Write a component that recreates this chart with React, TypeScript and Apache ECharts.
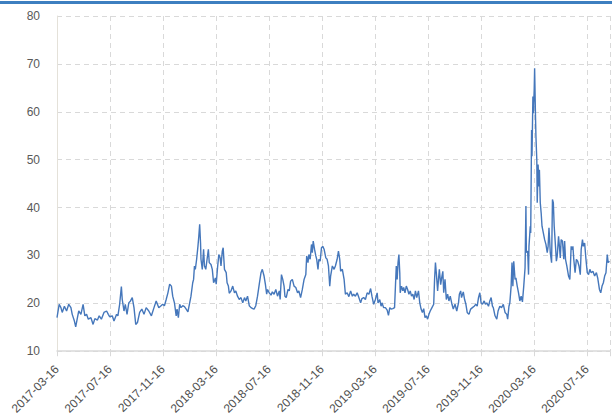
import React, { useEffect, useRef } from "react";
import * as echarts from "echarts";

// Days elapsed since 2017-03-16 for each reading
const START_DATE = "2017-03-16";
const tickLabels = [
  "2017-03-16", "2017-07-16", "2017-11-16", "2018-03-16", "2018-07-16", "2018-11-16",
  "2019-03-16", "2019-07-16", "2019-11-16", "2020-03-16", "2020-07-16",
];

const dayOffsets = [
  0, 5, 9, 12, 17, 22, 27, 32, 35, 40, 43, 47, 50, 55, 60, 64, 68, 72, 78, 83,
  87, 93, 97, 102, 108, 114, 118, 121, 127, 131, 137, 140, 144, 148, 150, 154, 157, 161, 165, 169,
  173, 177, 181, 185, 190, 195, 200, 205, 211, 217, 223, 228, 234, 238, 243,
  247, 251, 255, 259, 263, 266, 270, 274, 276, 279, 282, 285, 289, 293, 297, 301, 305, 308, 312, 314,
  316, 318, 321, 324, 326, 328, 330, 331, 334, 337, 339, 342, 345, 348, 350, 354, 357, 360, 362, 364,
  366, 369, 372, 375, 377, 380, 382, 385, 389, 391, 394, 396, 400, 404, 408, 411, 415, 419, 423, 427,
  431, 434, 438, 442, 446, 450, 453, 457, 461, 465, 469, 472, 476, 479, 482, 484, 488, 492, 495, 499,
  503, 507, 511, 513, 516, 519, 522, 524, 527, 531, 534, 537, 541, 545, 549, 553, 556, 560, 564, 568,
  572, 574, 577, 579, 582, 585, 587, 589, 592, 595, 597, 600, 602, 605, 608, 611, 614, 618, 621, 624,
  627, 629, 633, 637, 640, 644, 647, 650, 652, 656, 660, 663, 667, 671, 675, 679, 682, 686, 690, 694,
  698, 701, 705, 709, 713, 717, 721, 724, 728, 732, 736, 738, 742, 745, 747, 751,
  755, 759, 762, 765, 768, 772, 776, 779, 780, 782, 784, 786, 788, 789, 792, 795, 797, 800, 803, 806,
  809, 812, 815, 818, 821, 824, 827, 831, 834, 837, 840, 843, 846, 849, 852, 855, 858, 862, 866, 868,
  870, 872, 875, 877, 879, 882, 885, 887, 889, 892, 895, 898, 901, 904, 908, 911, 915, 919, 923, 925,
  928, 930, 934, 937, 940, 943, 947, 951, 955, 959, 963, 966, 969, 972, 975, 978, 982, 985, 988, 992,
  995, 998, 1001,
  1003, 1007, 1011, 1014, 1018, 1022, 1026, 1030, 1034, 1036, 1039, 1041, 1044, 1046, 1048, 1050, 1053, 1055, 1058, 1061,
  1064, 1067, 1070, 1073, 1076, 1078, 1079, 1082, 1084, 1085, 1088, 1089, 1091, 1092, 1094, 1095, 1097, 1098, 1100, 1101,
  1103, 1104, 1106, 1108, 1109, 1111, 1113, 1115, 1118, 1121, 1124, 1127, 1129, 1131, 1134, 1137, 1139, 1141, 1143, 1146,
  1148, 1150, 1153, 1155, 1157, 1159, 1162, 1165, 1167, 1169, 1172, 1176, 1179, 1182, 1184, 1186, 1188, 1191, 1194, 1197,
  1200, 1203, 1205, 1208, 1210, 1213, 1216, 1219, 1222, 1225, 1228, 1232, 1236, 1240, 1243, 1247, 1250, 1253, 1256, 1259,
  1262, 1265, 1267, 1270,
];

const indexValues = [
  17.0, 19.8, 19.1, 18.1, 19.4, 18.4, 19.8, 19.1, 17.7, 16.3, 15.1, 17.0, 18.4, 17.7, 19.8, 17.4, 17.7, 16.7, 17.0, 15.6,
  16.8, 16.5, 17.4, 16.7, 18.1, 18.4, 17.7, 17.2, 17.4, 16.3, 17.7, 17.4, 19.8, 23.5, 20.8, 18.4, 19.8, 17.7, 20.1, 20.5,
  21.2, 19.1, 15.6, 16.0, 18.1, 18.8, 17.7, 19.1, 18.4, 17.4, 19.1, 20.5, 19.1, 19.4, 19.8,
  19.5, 20.8, 22.2, 24.0, 23.6, 21.5, 20.1, 17.4, 18.8, 17.0, 19.8, 19.1, 19.5, 19.3, 18.8, 18.2, 20.1, 21.5, 24.3, 25.0,
  27.8, 27.1, 29.2, 31.9, 34.0, 36.5, 32.6, 29.2, 27.1, 31.3, 27.8, 27.1, 29.2, 31.3, 28.5, 28.1, 27.1, 24.3, 24.7, 25.3,
  24.0, 27.4, 30.2, 29.5, 27.8, 30.9, 31.6, 27.1, 26.4, 24.3, 23.6, 22.1, 22.6, 23.6, 22.2, 22.6, 21.5, 20.8, 21.2, 20.1,
  21.2, 20.5, 21.5, 19.5, 19.1, 18.9, 18.8, 19.5, 21.5, 24.0, 26.4, 27.1, 25.7, 24.0, 21.9, 22.9, 22.2, 21.7, 22.4, 21.9,
  22.9, 21.5, 22.6, 20.8, 26.0, 25.0, 23.6, 21.5, 21.2, 22.9, 22.6, 24.6, 25.0, 23.6, 23.3, 22.2, 22.6, 21.2, 22.9, 25.0,
  26.0, 29.9, 28.5, 30.2, 29.2, 32.3, 30.6, 33.0, 31.3, 29.9, 29.2, 27.1, 29.2, 28.8, 31.6, 31.9, 31.3, 29.5, 29.2, 27.8,
  23.6, 25.7, 27.8, 27.1, 27.8, 29.2, 30.9, 29.2, 26.7, 27.1, 25.0, 21.9, 22.2, 21.4, 22.6, 21.5, 21.9, 21.5, 22.2, 21.2,
  20.1, 21.0, 21.2, 20.8, 22.2, 21.9, 23.1, 21.5, 19.8, 20.8, 22.2, 20.1, 20.8, 19.4, 20.1, 19.1,
  19.1, 18.6, 17.5, 19.1, 18.8, 18.9, 19.1, 25.7, 27.8, 25.0, 28.5, 30.2, 26.4, 22.2, 23.6, 22.6, 23.3, 22.2, 23.6, 22.9,
  21.9, 22.6, 21.5, 21.9, 20.8, 22.6, 21.2, 22.6, 20.1, 18.8, 18.1, 18.9, 17.0, 17.4, 16.7, 17.7, 18.4, 19.1, 19.8, 25.0,
  28.5, 26.4, 22.6, 25.0, 27.1, 23.9, 25.7, 26.7, 22.2, 25.0, 20.8, 21.9, 20.5, 21.5, 19.8, 18.8, 19.8, 18.4, 20.1, 21.9,
  22.6, 21.2, 22.4, 20.8, 19.8, 18.1, 17.7, 18.8, 19.1, 19.4, 19.8, 19.4, 21.2, 22.2, 20.1, 19.8, 20.5, 19.8, 20.1, 19.4,
  20.5, 21.2, 19.4,
  19.1, 17.4, 16.7, 18.4, 19.4, 19.1, 19.8, 18.1, 17.7, 16.7, 19.4, 20.1, 23.6, 28.5, 23.6, 28.8, 25.0, 25.3, 23.6, 22.2,
  20.5, 21.5, 20.3, 23.6, 27.4, 40.3, 30.6, 30.9, 26.0, 31.9, 36.1, 34.7, 56.2, 50.7, 63.2, 59.7, 64.6, 69.1, 59.0, 54.9,
  50.0, 41.0, 49.0, 44.4, 47.9, 41.0, 38.9, 36.1, 34.7, 33.3, 32.3, 30.6, 31.9, 35.8, 30.6, 28.5, 41.7, 41.0, 36.1, 31.9,
  28.8, 29.9, 34.0, 31.9, 29.5, 33.3, 33.0, 29.2, 33.0, 29.2, 27.8, 25.7, 25.0, 31.9, 31.2, 31.9, 29.2, 26.4, 29.2, 28.8,
  27.8, 26.0, 31.2, 33.3, 31.9, 32.6, 29.2, 26.4, 26.0, 27.1, 26.4, 26.7, 25.7, 26.4, 25.3, 22.9, 22.2, 23.6, 24.3, 25.7,
  26.4, 30.2, 28.5, 28.8,
];

const TICK_STEP_DAYS = 121.8;
const AXIS_MAX_DAYS = 1271;

export default function App() {
  const ref = useRef<HTMLDivElement>(null);

  useEffect(() => {
    if (!ref.current) return;
    const chart = echarts.init(ref.current, null, { renderer: "svg" });
    const gridColor = "#d9d9d9";
    chart.setOption({
      animation: false,
      backgroundColor: "#ffffff",
      graphic: [
        {
          type: "rect",
          shape: { x: 0, y: 1, width: 612, height: 3 },
          style: { fill: "#3d7fc0" },
          silent: true,
        },
      ],
      grid: { left: 57, right: 0, top: 16, bottom: 65, containLabel: false },
      xAxis: {
        type: "value",
        min: 0,
        max: AXIS_MAX_DAYS,
        interval: TICK_STEP_DAYS,
        axisLine: { show: true, lineStyle: { color: gridColor, width: 1.5 } },
        axisTick: { show: true, length: 5, lineStyle: { color: gridColor } },
        axisLabel: {
          rotate: 45,
          margin: 16,
          color: "#505050",
          fontSize: 12,
          fontFamily: "Liberation Sans",
          formatter: (v: number) => {
            const k = Math.round(v / TICK_STEP_DAYS);
            if (Math.abs(v - k * TICK_STEP_DAYS) > 0.5) return "";
            return tickLabels[k] ?? "";
          },
        },
        splitLine: { show: true, lineStyle: { color: gridColor, type: [5, 4], width: 1 } },
      },
      yAxis: {
        type: "value",
        min: 10,
        max: 80,
        interval: 10,
        axisLine: { show: true, lineStyle: { color: "#e4e1d9", width: 1 } },
        axisTick: { show: false },
        axisLabel: {
          color: "#595959",
          fontSize: 12,
          fontFamily: "Liberation Sans",
          margin: 17,
        },
        splitLine: { show: true, lineStyle: { color: gridColor, type: [5, 4], width: 1 } },
      },
      series: [
        {
          type: "line",
          name: START_DATE,
          data: dayOffsets.map((d, i) => [d, indexValues[i]]),
          showSymbol: false,
          symbol: "none",
          lineStyle: { color: "#4577bb", width: 1.4 },
          itemStyle: { color: "#4577bb" },
        },
      ],
    });
    return () => chart.dispose();
  }, []);

  return (
    <div
      ref={ref}
      style={{ position: "fixed", left: 0, top: 0, width: 612, height: 417 }}
    />
  );
}
